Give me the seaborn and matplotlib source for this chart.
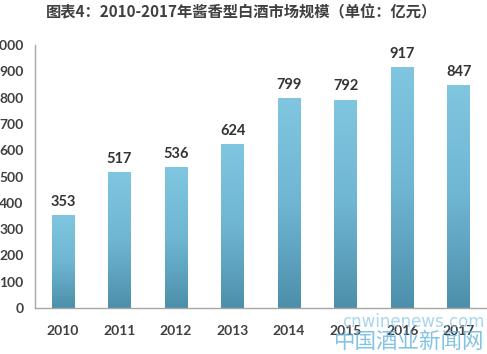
import numpy as np
import pandas as pd
import matplotlib
matplotlib.use("Agg")
import matplotlib.pyplot as plt
import seaborn as sns
from matplotlib.colors import LinearSegmentedColormap

years = ["2010", "2011", "2012", "2013", "2014", "2015", "2016", "2017"]
market_size = [353, 517, 536, 624, 799, 792, 917, 847]
y_ticks = [0, 100, 200, 300, 400, 500, 600, 700, 800, 900, 1000]
title = "图表4：2010-2017年酱香型白酒市场规模（单位：亿元）"

sns.set_style("white")
plt.rcParams["font.family"] = ["Lato", "Noto Sans CJK SC", "DejaVu Sans"]

df = pd.DataFrame({"year": years, "size": market_size})

fig = plt.figure(figsize=(4.87, 3.54), dpi=100)
# axes run past the right edge, like the cropped original
ax = fig.add_axes([34.7 / 487, 46 / 354, (487 - 34.7) / 487, 263 / 354])
sns.barplot(data=df, x="year", y="size", ax=ax, width=0.4, color="#63a9c8",
            saturation=1, edgecolor="none")

ax.set_xlim(-0.5, -0.5 + (487 - 34.7) / 57.57)
ax.set_ylim(0, 1000)

# vertical gradient on each bar
cmap = LinearSegmentedColormap.from_list("bar", ["#4d8fab", "#6fb6d3", "#80c6e0"])
grad = np.linspace(0, 1, 256).reshape(-1, 1)
for patch in ax.patches:
    x0, y0 = patch.get_x(), patch.get_y()
    w, h = patch.get_width(), patch.get_height()
    patch.set_facecolor("none")
    im = ax.imshow(grad, cmap=cmap, aspect="auto", origin="lower",
                   extent=[x0, x0 + w, y0, y0 + h], zorder=2)
    im.set_clip_path(patch)
    ax.text(x0 + w / 2, h + 24, f"{int(h)}", ha="center", va="bottom",
            fontsize=10.5, color="#333333", fontweight="bold")

ax.set_yticks(y_ticks)
ax.set_yticklabels([str(v) for v in y_ticks], fontsize=10, color="#404040",
                   fontweight="bold")
ax.set_xticks(range(len(years)))
ax.set_xticklabels(years, fontsize=10, color="#404040", fontweight="bold")
ax.set_xticks(np.arange(-0.5, len(years), 1), minor=True)
ax.tick_params(axis="x", which="major", length=0, pad=12)
ax.tick_params(axis="x", which="minor", length=4, color="#999999", direction="out")
ax.tick_params(axis="y", length=4, color="#999999", direction="out", pad=4)
ax.set_xlabel("")
ax.set_ylabel("")

sns.despine(ax=ax, top=True, right=True)
for side in ["left", "bottom"]:
    ax.spines[side].set_color("#a6a6a6")
    ax.spines[side].set_linewidth(1)

fig.text(0.495, 0.965, title, ha="center", va="center", fontsize=11,
         color="#404040", fontweight="bold",
         family=["Noto Sans CJK SC", "DejaVu Sans"])

# site watermark in the lower right corner
fig.text(0.995, 0.09, "cnwinenews.com", fontsize=12, color="#8cc8e8",
         alpha=0.75, ha="right", va="center", family=["DejaVu Sans"])
fig.text(0.995, 0.035, "中国酒业新闻网", fontsize=15.5, color="#5aaedc",
         alpha=0.75, ha="right", va="center",
         family=["Noto Sans CJK SC", "DejaVu Sans"])

fig.savefig("out.png", dpi=100)
